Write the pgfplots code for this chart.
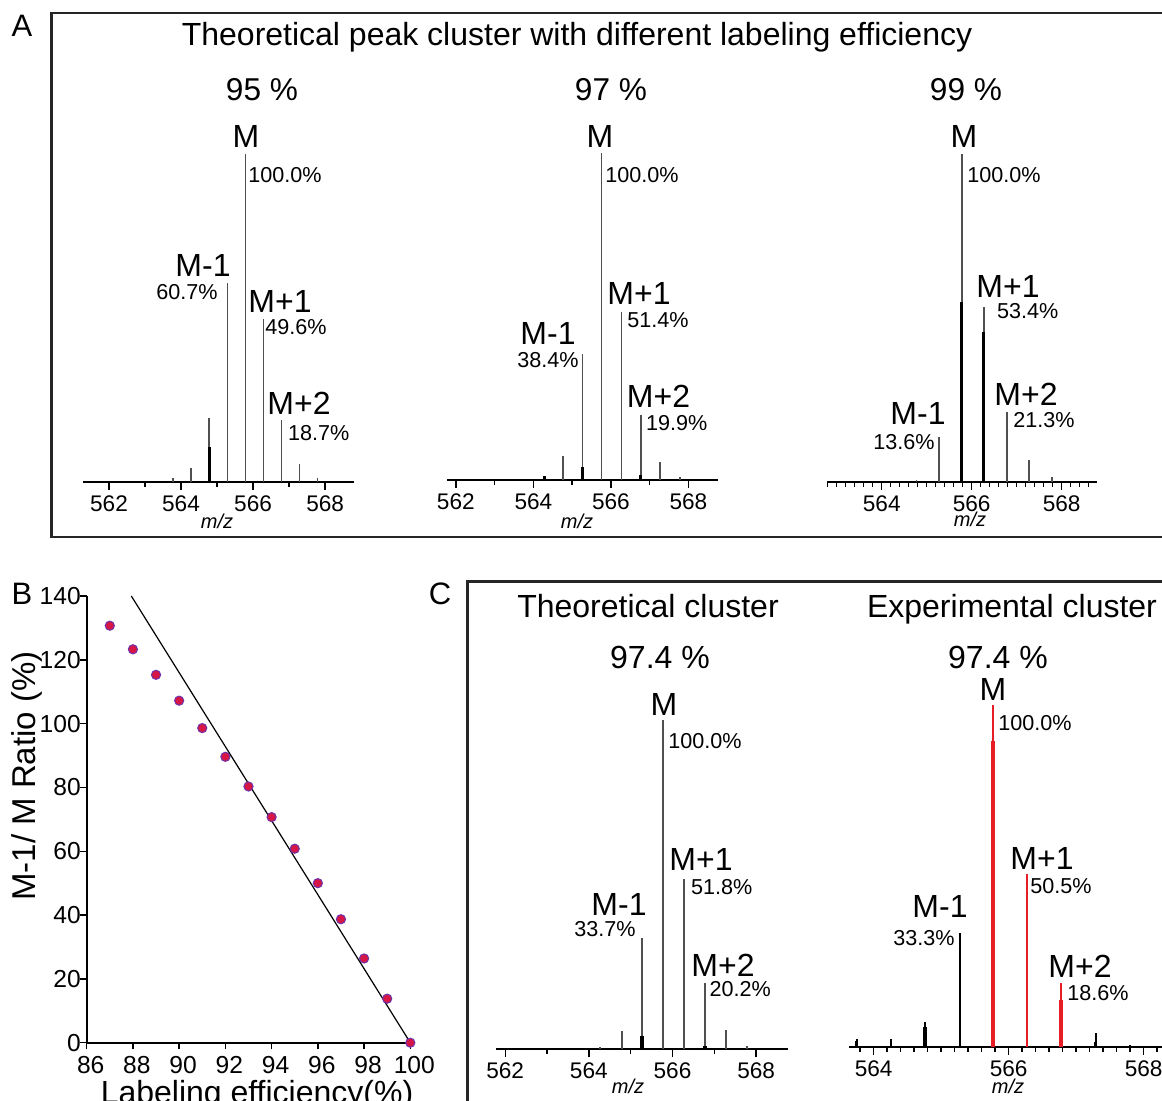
\documentclass[border=0pt]{standalone}
\usepackage{fontspec}
\setmainfont{Liberation Sans}
\usepackage{pgfplots}
\pgfplotsset{compat=1.18}
\def\pu{0.5pt}
\definecolor{pk}{RGB}{80,80,80}
\definecolor{rd}{RGB}{232,30,38}
\definecolor{mk}{RGB}{214,22,70}
\definecolor{mkline}{RGB}{110,50,170}
\newcommand\fM{\fontsize{16}{19}\selectfont}
\newcommand\fP{\fontsize{10.8}{12}\selectfont}
\newcommand\fT{\fontsize{16}{19}\selectfont}
\newcommand\fZ{\fontsize{10}{12}\selectfont\itshape}
\newcommand\lab[4]{\node[anchor=#1,inner sep=0pt] at ({#2*\pu},{-#3*\pu}) {#4};}
\pgfplotsset{
  spec/.style={
    scale only axis, anchor=south west,
    axis y line=none, axis x line*=bottom,
    axis line style={black, line width=0.9pt, -},
    ymin=0, ymax=100, clip=false,
    tick align=outside,
    major tick length=4pt, minor tick length=2.5pt,
    tick style={black, line width=0.7pt},
    /pgf/number format/assume math mode=true,
    xticklabel style={font=\fontsize{11.3}{13}\selectfont, anchor=base, yshift=-10.8pt},
  },
  thinpk/.style={ycomb, no marks, pk, line width=0.85pt},
  thickpk/.style={ycomb, no marks, black, line width=1.6pt},
}
\begin{document}
\begin{tikzpicture}
\useasboundingbox (0,0) rectangle (581pt,-550.5pt);
\clip (0,0) rectangle (581pt,-550.5pt);

% boxes
\draw[line width=1.3pt, black!85] (25.85pt,-6.5pt) rectangle (600pt,-268.5pt);
\draw[line width=1.3pt, black!85] (233.65pt,-290.85pt) rectangle (600pt,-600pt);

% ---------- A1: 95 %
\begin{axis}[spec, at={(41.35pt,-240.85pt)}, width=135.8pt, height=164pt,
  xmin=561.27, xmax=568.81, xtick={562,564,566,568}, minor xtick={563,565,567}]
\addplot[thinpk] coordinates {(563.78,1.0) (564.28,4.1) (564.78,19.3) (565.29,60.7) (565.79,100) (566.29,49.6) (566.79,18.7) (567.29,5.4) (567.79,1.1)};
\addplot[thickpk] coordinates {(564.78,10.7)};
\end{axis}

% ---------- A2: 97 %
\begin{axis}[spec, at={(223.65pt,-240pt)}, width=135.5pt, height=163.5pt,
  xmin=561.78, xmax=568.77, xtick={562,564,566,568}, minor xtick={563,565,567}]
\addplot[thinpk] coordinates {(564.28,1.0) (564.77,7.3) (565.27,38.4) (565.76,100) (566.27,51.4) (566.77,19.9) (567.27,5.4) (567.78,1.0)};
\addplot[thickpk] coordinates {(564.28,1.2) (565.27,3.9) (566.77,1.5)};
\end{axis}

% ---------- A3: 99 %
\begin{axis}[spec, at={(413.65pt,-240.85pt)}, width=134.7pt, height=164pt,
  xmin=562.79, xmax=568.78, xtick={564,566,568},
  minor xtick={562.8,563,563.2,563.4,563.6,563.8,564.2,564.4,564.6,564.8,565,565.2,565.4,565.6,565.8,566.2,566.4,566.6,566.8,567,567.2,567.4,567.6,567.8,568.2,568.4,568.6}]
\addplot[thinpk] coordinates {(564.77,0.5) (565.28,13.6) (565.78,100) (566.27,53.4) (566.78,21.3) (567.27,6.6) (567.78,1.5)};
\addplot[thickpk] coordinates {(565.78,54.9) (566.27,45.7)};
\end{axis}

% ---------- C1: theoretical
\begin{axis}[spec, at={(248pt,-524.65pt)}, width=146.15pt, height=164.65pt,
  xmin=561.78, xmax=568.77, xtick={562,564,566,568}, minor xtick={563,565,567}]
\addplot[thinpk] coordinates {(564.27,0.7) (564.79,5.7) (565.27,33.7) (565.77,100) (566.28,51.8) (566.78,20.2) (567.28,6.0) (567.79,1.0)};
\addplot[thickpk] coordinates {(565.27,4.0) (566.78,1.0)};
\end{axis}

% ---------- C2: experimental
\begin{axis}[spec, at={(424.65pt,-523.35pt)}, width=174.15pt, height=171pt,
  xmin=563.64, xmax=568.8, xtick={564,566,568},
  minor xtick={563.8,564.2,564.4,564.6,564.8,565,565.2,565.4,565.6,565.8,566.2,566.4,566.6,566.8,567,567.2,567.4,567.6,567.8,568.2,568.4,568.6}]
\addplot[ycomb, no marks, black, line width=0.85pt] coordinates {(563.75,2.2) (564.26,2.2) (564.76,7.1) (565.28,33.3) (567.29,3.9) (567.8,0.5)};
\addplot[thickpk] coordinates {(563.75,1.8) (564.76,5.8) (567.29,1.5)};
\addplot[ycomb, no marks, rd, line width=0.95pt] coordinates {(565.77,100) (566.275,50.5) (566.78,18.6)};
\addplot[ycomb, no marks, rd, line width=1.8pt] coordinates {(565.77,89.5) (566.78,13.7)};
\end{axis}

% ---------- B: scatter
\begin{axis}[scale only axis, anchor=south west, at={(43.35pt,-521.35pt)},
  width=161.8pt, height=223.35pt,
  xmin=86, xmax=100, ymin=0, ymax=140,
  axis lines=left, axis line style={black, line width=0.8pt, -},
  tick align=outside, major tick length=3.3pt,
  tick style={black, line width=0.7pt},
  xtick={86,88,...,100}, ytick={0,20,...,140},
  /pgf/number format/assume math mode=true,
  xticklabel style={font=\fontsize{12.3}{14}\selectfont, anchor=base, yshift=-12.3pt, xshift=2pt},
  yticklabel style={font=\fontsize{12.3}{14}\selectfont, inner sep=0pt, xshift=0.5pt},
  clip=false]
\addplot[black, line width=0.6pt, no marks] coordinates {(87.93,140) (100,0)};
\addplot[only marks, mark=*, mark size=2.3pt, mark options={fill=mk, draw=mkline, line width=0.5pt}]
  coordinates {(87,130.7) (88,123.3) (89,115.3) (90,107.2) (91,98.6) (92,89.6) (93,80.3) (94,70.7) (95,60.8) (96,50.0) (97,38.7) (98,26.4) (99,13.8) (100,0)};
\end{axis}

% ---------- texts
\lab{base}{22}{37}{\fontsize{15.5}{18}\selectfont A}
\lab{base}{22}{604}{\fontsize{15.5}{18}\selectfont B}
\lab{base}{440}{604}{\fontsize{15.5}{18}\selectfont C}
\lab{base}{577}{46}{\fT Theoretical peak cluster with different labeling efficiency}
\lab{base}{262}{101}{\fontsize{15.8}{18}\selectfont 95 \%}
\lab{base}{611}{101}{\fontsize{15.8}{18}\selectfont 97 \%}
\lab{base}{966}{101}{\fontsize{15.8}{18}\selectfont 99 \%}
\lab{base}{648}{617}{\fT Theoretical cluster}
\lab{base}{1012}{617}{\fT Experimental cluster}
\lab{base}{660}{668}{\fT 97.4 \%}
\lab{base}{998}{668}{\fT 97.4 \%}

% A1 labels
\lab{base}{246}{148}{\fM M}
\lab{base west}{248}{183}{\fP 100.0\%}
\lab{base east}{231}{277}{\fM M-1}
\lab{base east}{218}{300}{\fP 60.7\%}
\lab{base}{280}{313}{\fM M+1}
\lab{base west}{265}{335}{\fP 49.6\%}
\lab{base}{299}{415}{\fM M+2}
\lab{base west}{287.7}{441}{\fP 18.7\%}
% A2 labels
\lab{base}{548}{345}{\fM M-1}
\lab{base east}{579}{368}{\fP 38.4\%}
\lab{base}{600}{148}{\fM M}
\lab{base west}{605}{183}{\fP 100.0\%}
\lab{base}{639}{305}{\fM M+1}
\lab{base west}{627}{328}{\fP 51.4\%}
\lab{base}{658.5}{408}{\fM M+2}
\lab{base west}{645.7}{430}{\fP 19.9\%}
% A3 labels
\lab{base}{964}{148}{\fM M}
\lab{base west}{967}{183}{\fP 100.0\%}
\lab{base}{1008}{298}{\fM M+1}
\lab{base west}{996.7}{319}{\fP 53.4\%}
\lab{base}{1026}{406}{\fM M+2}
\lab{base west}{1013}{428}{\fP 21.3\%}
\lab{base}{918}{425}{\fM M-1}
\lab{base east}{935}{450}{\fP 13.6\%}
% C1 labels
\lab{base}{664}{715}{\fM M}
\lab{base west}{668}{748}{\fP 100.0\%}
\lab{base}{701}{870.5}{\fM M+1}
\lab{base west}{690.7}{894}{\fP 51.8\%}
\lab{base}{619}{915}{\fM M-1}
\lab{base east}{636}{936.7}{\fP 33.7\%}
\lab{base}{723}{976}{\fM M+2}
\lab{base west}{709.3}{996.7}{\fP 20.2\%}
% C2 labels
\lab{base}{993}{700}{\fM M}
\lab{base west}{998}{730}{\fP 100.0\%}
\lab{base}{1042}{869}{\fM M+1}
\lab{base west}{1030}{893}{\fP 50.5\%}
\lab{base}{940}{917}{\fM M-1}
\lab{base east}{955}{945}{\fP 33.3\%}
\lab{base}{1080}{977}{\fM M+2}
\lab{base west}{1067}{1000}{\fP 18.6\%}
% m/z
\lab{base}{217}{528}{\fZ m/z}
\lab{base}{577}{528}{\fZ m/z}
\lab{base}{970}{526}{\fZ m/z}
\lab{base}{628}{1093}{\fZ m/z}
\lab{base}{1008}{1093}{\fZ m/z}
% B axis labels
\node[rotate=90, anchor=base, inner sep=0pt] at ({35*\pu},{-776*\pu}) {\fontsize{16.5}{19}\selectfont M-1/ M Ratio (\%)};
\lab{base}{257}{1103}{\fontsize{16}{19}\selectfont Labeling efficiency(\%)}
\end{tikzpicture}
\end{document}
